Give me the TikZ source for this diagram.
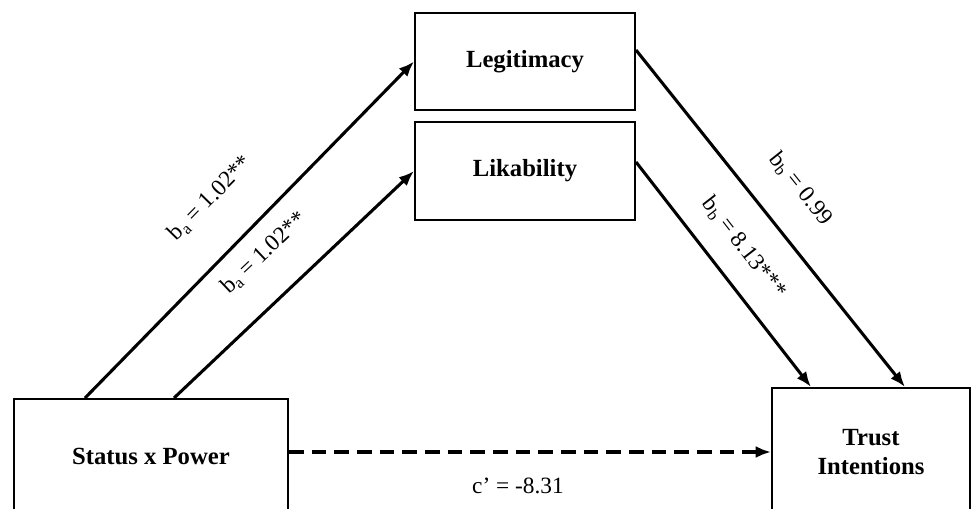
\documentclass[tikz,border=0pt]{standalone}
\usepackage{fontspec}
\setmainfont{Liberation Serif}
\usetikzlibrary{arrows.meta}
\begin{document}
\begin{tikzpicture}[x=.75pt,y=-.75pt,
 box/.style={draw,line width=1.5pt,inner sep=0pt,align=center,font=\fontsize{18.5}{21.75}\selectfont\bfseries},
 link/.style={line width=2.3pt,-{Latex[length=11.5pt,width=9pt]}},
 coef/.style={sloped,above=#1,inner sep=0pt,font=\fontsize{17.5}{21}\selectfont}]
 \useasboundingbox (0,0) rectangle (972,508);
 \node[box,minimum width=205.5pt,minimum height=85.5pt] (sp) at (151,456) {Status x Power};
 \node[box,minimum width=165pt,minimum height=72.75pt] (leg) at (525,61.5) {Legitimacy};
 \node[box,minimum width=165pt,minimum height=73.5pt] (lik) at (525,171) {Likability};
 \node[box,minimum width=148.5pt,minimum height=96pt] (ti) at (871,452) {Trust\\Intentions};
 \draw[link] ([xshift=54pt]sp.north west) -- (leg.west) node[coef=29pt,pos=.49] {b\textsubscript{a} = 1.02**};
 \draw[link] ([xshift=120.75pt]sp.north west) -- (lik.west) node[coef=24pt,pos=.5] {b\textsubscript{a} = 1.02**};
 \draw[link] ([yshift=8.6pt]leg.east) -- ([xshift=100.5pt]ti.north west) node[coef=23pt,pos=.49] {b\textsubscript{b} = 0.99};
 \draw[link] ([yshift=6.75pt]lik.east) -- ([xshift=30pt]ti.north west) node[coef=16pt,pos=.47] {b\textsubscript{b} = 8.13***};
 \draw[link,dash pattern=on 11pt off 6pt] (sp.east |- ti.west) -- (ti.west)
  node[below=18pt,pos=.475,inner sep=0pt,font=\fontsize{17.5}{21}\selectfont] {c’ = -8.31};
\end{tikzpicture}
\end{document}
